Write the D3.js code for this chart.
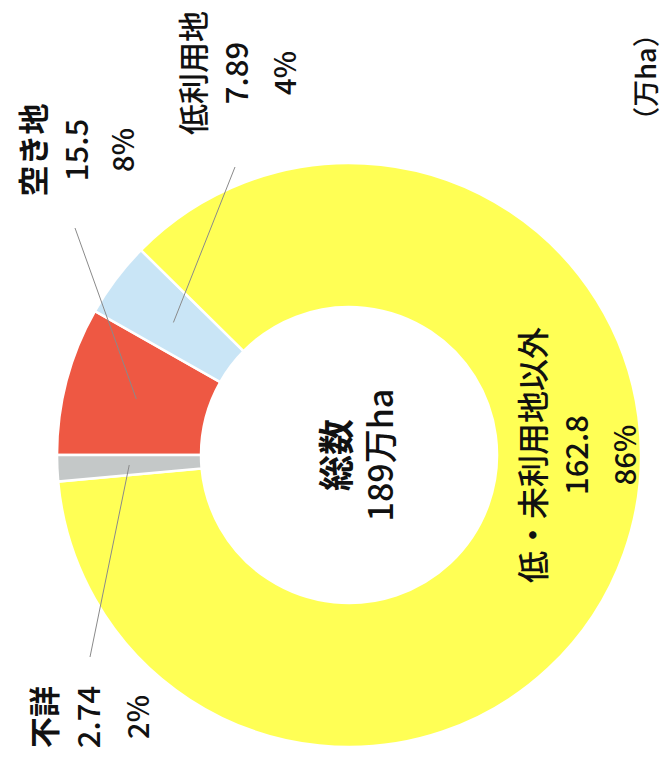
<!DOCTYPE html>
<html>
<head>
<meta charset="utf-8">
<script src="https://cdn.jsdelivr.net/npm/d3@7"></script>
<style>
  html, body { margin: 0; padding: 0; background: #fff; }
  text { font-family: "Noto Sans CJK JP", "Noto Sans", sans-serif; fill: #111; }
</style>
</head>
<body>
<div id="chart"></div>
<script>
// values in 万ha, clockwise from the top of the (unrotated) donut
const categories = ['空き地', '低利用地', '低・未利用地以外', '不詳']
const values = [15.5, 7.89, 162.8, 2.74]
const valueLabels = ['15.5', '7.89', '162.8', '2.74']
const shareLabels = ['8%', '4%', '86%', '2%']
const colors = ['#ee5843', '#c9e5f6', '#ffff55', '#c4c8c8']
const totalLabel = ['総数', '189万ha']
const unitLabel = '（万ha）'

const W = 664
const H = 761

// the printed chart is turned a quarter turn counter-clockwise,
// so everything is drawn in a 761 x 664 frame and rotated
const cx = 306
const cy = 349
const outerR = 292
const innerR = 148

// label blocks (frame coords): x = centre of text, y = baselines of the three lines
const labelPos = [
  { x: 611, ys: [45, 88, 134], sizes: [31, 31, 29], bold: true, end: [533, 75] },
  { x: 688, ys: [205, 248, 296], sizes: [31, 31, 29], bold: false, end: [594, 235] },
  { x: 306, ys: [545, 588, 636], sizes: [32, 31, 29], bold: false, end: null },
  { x: 44, ys: [56, 100, 149], sizes: [31, 31, 29], bold: true, end: [104, 90] }
]

const svg = d3.select('#chart').append('svg')
  .attr('width', W)
  .attr('height', H)

const g = svg.append('g')
  .attr('transform', `translate(0,${H}) rotate(-90)`)

const pie = d3.pie().sort(null).startAngle(0).value(d => d)
const arcs = pie(values)

const arc = d3.arc().innerRadius(innerR).outerRadius(outerR)

const donut = g.append('g').attr('transform', `translate(${cx},${cy})`)

donut.selectAll('path')
  .data(arcs)
  .enter().append('path')
  .attr('d', arc)
  .style('fill', (d, i) => colors[i])
  .style('stroke', '#fff')
  .style('stroke-width', 2.5)

// leader lines from the slice centroid out to the label
arcs.forEach((d, i) => {
  const end = labelPos[i].end
  if (!end) return
  const c = arc.centroid(d)
  g.append('line')
    .attr('x1', cx + c[0])
    .attr('y1', cy + c[1])
    .attr('x2', end[0])
    .attr('y2', end[1])
    .style('stroke', '#8a8a8a')
    .style('stroke-width', 1)
})

// slice labels
categories.forEach((name, i) => {
  const p = labelPos[i]
  const lines = [name, valueLabels[i], shareLabels[i]]
  lines.forEach((t, k) => {
    g.append('text')
      .attr('x', p.x)
      .attr('y', p.ys[k])
      .attr('text-anchor', 'middle')
      .style('font-size', p.sizes[k] + 'px')
      .style('font-weight', k === 0 && p.bold ? 700 : 500)
      .text(t)
  })
})

// total in the hole
g.append('text')
  .attr('x', cx)
  .attr('y', cy + 1)
  .attr('text-anchor', 'middle')
  .style('font-size', '36px')
  .style('font-weight', 700)
  .text(totalLabel[0])

g.append('text')
  .attr('x', cx)
  .attr('y', cy + 44)
  .attr('text-anchor', 'middle')
  .style('font-size', '34px')
  .style('font-weight', 500)
  .text(totalLabel[1])

// unit
g.append('text')
  .attr('x', 684)
  .attr('y', 656)
  .attr('text-anchor', 'middle')
  .style('font-size', '27px')
  .style('font-weight', 500)
  .text(unitLabel)
</script>
</body>
</html>
